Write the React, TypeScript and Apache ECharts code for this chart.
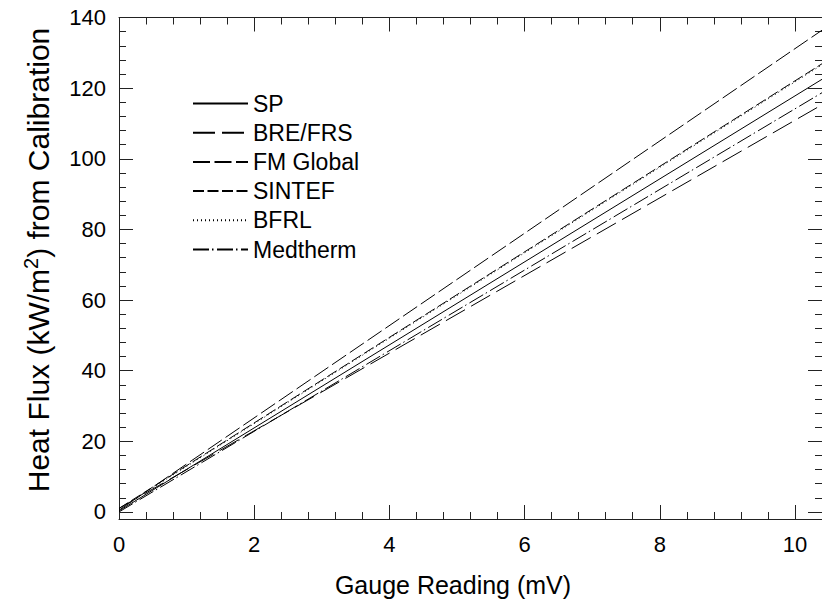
import React, { useEffect, useRef } from "react";
import * as echarts from "echarts";

// Gauge reading (mV) at the two ends of each calibration line
const gaugeReading = [0, 10.4];
// Heat flux (kW/m2) at those readings
const sp = [0.3, 122.5];
const breFrs = [1.0, 115.3];
const fmGlobal = [0.5, 136.4];
const sintef = [1.0, 126.9];
const bfrl = [0.8, 126.6];
const medtherm = [0.0, 118.7];

const seriesNames = ["SP", "BRE/FRS", "FM Global", "SINTEF", "BFRL", "Medtherm"];
const xMajor = [0, 2, 4, 6, 8, 10];
const yMajor = [0, 20, 40, 60, 80, 100, 120, 140];

const minorOf = (major: number[], n: number, extra: number) => {
  const out: number[] = [];
  const step = (major[1] - major[0]) / n;
  const last = major[major.length - 1] + extra;
  for (let v = major[0]; v <= last + 1e-9; v += step) {
    const r = Math.round(v * 1000) / 1000;
    if (!major.some((m) => Math.abs(m - r) < 1e-6)) out.push(r);
  }
  return out;
};
const xMinor = minorOf(xMajor, 5, 0.4);
const yMinor = minorOf(yMajor, 5, 0);

export default function App() {
  const ref = useRef<HTMLDivElement>(null);
  useEffect(() => {
    const chart = echarts.init(ref.current!, null, { renderer: "svg" });
    const font = "Liberation Sans, Arial, Helvetica, sans-serif";
    const axisCol = "#222";
    const pts = (ys: number[]) => gaugeReading.map((x, i) => [x, ys[i]]);
    const mk = (name: string, ys: number[], type: any) => ({
      name,
      type: "line",
      data: pts(ys),
      xAxisIndex: 0,
      yAxisIndex: 0,
      symbol: "none",
      showSymbol: false,
      clip: true,
      lineStyle: { color: "#000", width: 1, type },
      itemStyle: { color: "#000" },
      emphasis: { disabled: true },
    });
    const xBase = { type: "value", min: 0, max: 10.4, splitLine: { show: false } };
    const yBase = { type: "value", min: -2, max: 140, splitLine: { show: false } };
    const line = { show: true, onZero: false, lineStyle: { color: axisCol, width: 1 } };
    const noLine = { show: false, onZero: false };
    const noLabel = { show: false };
    const tick = (len: number, vals: number[]) => ({
      inside: true,
      length: len,
      customValues: vals,
      lineStyle: { color: axisCol, width: 1 },
    });
    chart.setOption({
      animation: false,
      backgroundColor: "#fff",
      grid: { left: 119, right: -4, top: 17.5, bottom: 92, containLabel: false },
      xAxis: [
        {
          ...xBase,
          position: "bottom",
          axisLine: line,
          axisTick: tick(14, xMajor),
          axisLabel: { customValues: xMajor, fontSize: 22, color: "#000", fontFamily: font, margin: 14 },
        },
        { ...xBase, position: "bottom", axisLine: noLine, axisTick: tick(7, xMinor), axisLabel: noLabel },
        { ...xBase, position: "top", axisLine: line, axisTick: tick(14, xMajor), axisLabel: noLabel },
        { ...xBase, position: "top", axisLine: noLine, axisTick: tick(7, xMinor), axisLabel: noLabel },
      ],
      yAxis: [
        {
          ...yBase,
          position: "left",
          axisLine: line,
          axisTick: tick(14, yMajor),
          axisLabel: { customValues: yMajor, fontSize: 22, color: "#000", fontFamily: font, margin: 13 },
        },
        { ...yBase, position: "left", axisLine: noLine, axisTick: tick(7, yMinor), axisLabel: noLabel },
        { ...yBase, position: "right", axisLine: line, axisTick: tick(14, yMajor), axisLabel: noLabel },
        { ...yBase, position: "right", axisLine: noLine, axisTick: tick(7, yMinor), axisLabel: noLabel },
      ],
      legend: {
        data: seriesNames,
        orient: "vertical",
        left: 187,
        top: 87,
        itemWidth: 55,
        itemHeight: 20,
        itemGap: 6.2,
        selectedMode: false,
        itemStyle: { opacity: 0, borderWidth: 0 },
        textStyle: { fontSize: 23, color: "#000", fontFamily: font },
      },
      graphic: [
        {
          type: "text",
          x: 453,
          y: 585,
          style: {
            text: "Gauge Reading (mV)",
            fontSize: 25,
            fontFamily: font,
            fill: "#000",
            align: "center",
            verticalAlign: "middle",
          },
        },
        {
          type: "text",
          x: 38,
          y: 260,
          rotation: Math.PI / 2,
          style: {
            text: "Heat Flux (kW/m{sup|2}) from Calibration",
            fontSize: 30,
            fontFamily: font,
            fill: "#000",
            align: "center",
            verticalAlign: "middle",
            rich: {
              sup: { fontSize: 20, fontFamily: font, fill: "#000", padding: [0, 0, 14, 0] },
            },
          },
        },
      ],
      series: [
        mk("SP", sp, "solid"),
        mk("BRE/FRS", breFrs, [22, 7]),
        mk("FM Global", fmGlobal, [17, 4.5]),
        mk("SINTEF", sintef, [11, 3.5]),
        mk("BFRL", bfrl, [1, 3]),
        mk("Medtherm", medtherm, [16, 3, 1.5, 3.5]),
      ],
    });
    return () => chart.dispose();
  }, []);
  return (
    <div
      ref={ref}
      style={{ position: "fixed", left: 0, top: 0, width: 822, height: 611, background: "#fff" }}
    />
  );
}
